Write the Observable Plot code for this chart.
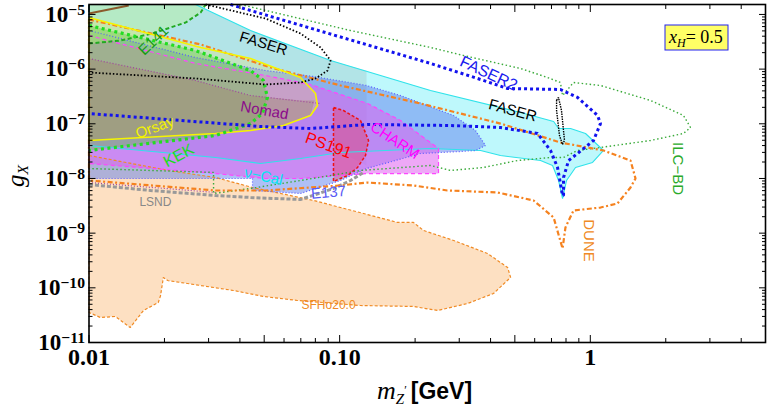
<!DOCTYPE html>
<html><head><meta charset="utf-8">
<script src="https://cdn.jsdelivr.net/npm/d3@7"></script>
<script src="https://cdn.jsdelivr.net/npm/@observablehq/plot@0.6"></script>
<style>body{margin:0;background:#fff}#chart{width:772px;height:410px}</style>
</head><body><div id="chart"></div>
<script>
// ---------- data (x = m_Z' in GeV, y = g_X) ----------
const sfhoX = [0.01,0.0208,0.032,0.0449,0.0787,0.1245,0.170,0.197,0.216,0.285,0.389,0.468,0.481,0.411,0.324,0.246,0.197,0.121,0.0679,0.0497,0.0377,0.0247,0.0206,0.0198,0.0193,0.0189,0.0165,0.0146,0.01275,0.0111,0.01];
const sfhoY = [2.63e-8,1.40e-8,1.04e-8,6.84e-9,3.96e-9,2.29e-9,1.57e-9,1.57e-9,1.12e-9,7.34e-10,4.25e-10,2.35e-10,1.55e-10,7.88e-11,5.17e-11,3.85e-11,4.56e-11,4.75e-11,5.87e-11,6.94e-11,8.94e-11,1.20e-10,1.36e-10,1.55e-10,7.24e-11,5.39e-11,3.85e-11,1.88e-11,2.99e-11,2.87e-11,3.54e-11];

const nucalX = [0.01,0.0266,0.0441,0.092,0.2304,0.527,0.714,0.747,0.834,0.957,1.129,1.021,0.873,0.804,0.775,0.747,0.707,0.633,0.438,0.365,0.2304,0.1008,0.0698,0.0483,0.032,0.01];
const nucalY = [1.52e-5,1.52e-5,5.08e-6,1.44e-6,4.06e-7,1.61e-7,1.10e-7,8.2e-8,8.2e-8,6.65e-8,3.25e-8,1.96e-8,1.59e-8,9.18e-9,4.30e-9,9.18e-9,1.73e-8,2.13e-8,2.63e-8,3.25e-8,3.53e-8,2.99e-8,2.32e-8,1.88e-8,2.42e-8,4.01e-8];

const greyX = [0.01,0.0266,0.0441,0.092,0.128,0.128,0.1008,0.0698,0.0483,0.032,0.01];
const greyY = [1.52e-5,1.52e-5,5.08e-6,1.44e-6,9.3e-7,1.73e-8,2.99e-8,2.32e-8,1.88e-8,2.42e-8,4.01e-8];

const e137X = [0.01,0.0266,0.0506,0.0787,0.128,0.1749,0.2847,0.3483,0.382,0.3483,0.3034,0.2102,0.128,0.1008,0.0698,0.0449,0.0449,0.01];
const e137Y = [5.08e-6,1.63e-6,9.43e-7,7.33e-7,5.02e-7,3.29e-7,1.42e-7,7.54e-8,4.01e-8,3.25e-8,3.11e-8,2.86e-8,1.52e-8,9.18e-9,5.31e-9,6.03e-9,9.99e-9,9.99e-9];

const charmX = [0.01,0.0266,0.0506,0.0765,0.1292,0.1749,0.248,0.248,0.1292,0.0698,0.0506,0.032,0.01];
const charmY = [4.12e-6,1.27e-6,7.64e-7,5.23e-7,2.35e-7,1.15e-7,3.53e-8,1.23e-8,1.23e-8,9.99e-9,9.99e-9,1.23e-8,1.88e-8];

const ps191X = [0.0945,0.1036,0.1211,0.1304,0.1268,0.1179,0.1075,0.0945];
const ps191Y = [1.99e-7,1.75e-7,1.15e-7,4.95e-8,2.63e-8,1.59e-8,1.13e-8,8.8e-9];

const e141X = [0.01,0.01335,0.0179,0.0243,0.0279,0.0292,0.01];
const e141Y = [2.94e-6,3.34e-6,4.48e-6,7.12e-6,1.085e-5,1.52e-5,1.52e-5];

const orsayX = [0.01,0.0279,0.0441,0.0698,0.0801,0.0816,0.0765,0.0597,0.0441,0.032,0.01];
const orsayY = [8.79e-6,2.49e-6,1.56e-6,7.03e-7,3.58e-7,2.16e-7,1.42e-7,9.31e-8,7.54e-8,6.65e-8,4.95e-8];

const kekX = [0.01,0.0266,0.0441,0.0497,0.0515,0.0492,0.0441,0.032,0.01];
const kekY = [6.28e-6,2.19e-6,9.43e-7,6.19e-7,3.03e-7,1.54e-7,1.01e-7,6.11e-8,3.25e-8];

const nomadFillX = [0.01,0.0266,0.0441,0.0698,0.0794,0.0765,0.0597,0.0441,0.032,0.01];
const nomadFillY = [1.56e-6,6.19e-7,3.29e-7,2.67e-7,2.67e-7,1.42e-7,9.31e-8,7.54e-8,6.65e-8,4.95e-8];

const duneX = [0.01,0.0279,0.053,0.1008,0.2102,0.438,0.760,1.129,1.447,1.515,1.447,1.284,1.098,0.857,0.796,0.775,0.714,0.594,0.427,0.269,0.197,0.129,0.1008,0.0506,0.032,0.01];
const duneY = [8.08e-6,2.82e-6,1.07e-6,5.02e-7,2.35e-7,1.01e-7,4.55e-8,3.25e-8,2.13e-8,9.99e-9,6.84e-9,3.49e-9,2.94e-9,2.60e-9,1.27e-9,5.24e-10,1.93e-9,3.96e-9,5.54e-9,6.03e-9,7.44e-9,8.44e-9,7.44e-9,6.03e-9,6.03e-9,9.18e-9];

const faser2X = [0.0367,0.0441,0.2304,0.355,0.468,0.760,0.889,1.069,1.098,1.030,0.889,0.819,0.782,0.782,0.775,0.740,0.694,0.616,0.438,0.277,0.1292,0.0765,0.0483,0.01];
const faser2Y = [1.52e-5,1.18e-5,1.27e-6,6.74e-7,4.42e-7,4.24e-7,3.03e-7,1.42e-7,1.01e-7,4.95e-8,2.86e-8,2.13e-8,1.04e-8,4.88e-9,4.88e-9,1.59e-8,3.25e-8,6.65e-8,8.56e-8,9.31e-8,9.71e-8,8.2e-8,8.93e-8,1.54e-7];

const faserX = [0.0292,0.0506,0.0698,0.0839,0.092,0.0895,0.0801,0.0698,0.0506,0.0266,0.01];
const faserY = [1.52e-5,8.43e-6,4.48e-6,2.49e-6,1.44e-6,9.43e-7,6.74e-7,5.69e-7,5.23e-7,6.74e-7,8.67e-7];

const faserSmallX = [0.7336,0.7466,0.7675,0.789,0.7746,0.7535,0.7336];
const faserSmallY = [2.67e-7,3.03e-7,1.75e-7,4.95e-8,4.2e-8,6.11e-8,1.75e-7];

const ilcX = [0.0402,0.047,0.1105,0.2304,0.312,0.527,0.675,0.760,0.775,0.857,1.098,1.739,2.354,2.51,2.354,1.739,1.098,0.889,0.782,0.694,0.5125,0.375,0.277,0.2304,0.1211,0.0698,0.0441,0.0314,0.0314,0.01];
const ilcY = [1.52e-5,1.284e-5,5.08e-6,2.49e-6,1.775e-6,1.026e-6,7.03e-7,5.69e-7,3.29e-7,5.69e-7,5.02e-7,2.67e-7,1.42e-7,8.56e-8,6.65e-8,4.95e-8,3.69e-8,3.25e-8,2.42e-8,2.42e-8,2.13e-8,1.59e-8,1.40e-8,1.73e-8,1.40e-8,9.18e-9,6.56e-9,5.31e-9,1.29e-8,1.52e-8];

const lsndX = [0.01,0.0176,0.032,0.0441,0.0698,0.0945,0.1105,0.1245];
const lsndY = [7.76e-9,6.03e-9,4.88e-9,4.49e-9,4.12e-9,6.56e-9,9.18e-9,1.29e-8];

const nomadUpX = [0.01,0.0266,0.0441,0.0839];
const nomadUpY = [1.56e-6,6.19e-7,3.29e-7,2.35e-7];
const nomadLoX = [0.01,0.032];
const nomadLoY = [8.44e-9,5.54e-9];

const brownX = [0.01,0.0144];
const brownY = [1.04e-5,1.457e-5];

// labels
const labelText = ["E141","FASER","Nomad","Orsay","KEK","ν−Cal","PS191","CHARM","E137","LSND","SFHo20.0","FASER2","FASER","DUNE","ILC−BD"];
const labelX = [0.0181,0.0497,0.0501,0.0183,0.0228,0.0497,0.0903,0.166,0.0903,0.0184,0.0903,0.393,0.490,0.984,2.23];
const labelY = [3.34e-6,2.94e-6,1.75e-7,8.56e-8,2.63e-8,1.09e-8,4.01e-8,4.95e-8,5.54e-9,3.64e-9,4.75e-11,8.32e-7,1.75e-7,7.34e-10,1.52e-8];

// ticks
const xMajor = [0.01,0.05,0.1,0.5,1,5];
const xMajorLabels = ["0.01","0.05","0.10","0.50","1","5"];
const xMinor = [0.02,0.03,0.04,0.06,0.07,0.08,0.09,0.2,0.3,0.4,0.6,0.7,0.8,0.9,2,3,4];
const yMajor = [1e-11,1e-10,1e-9,1e-8,1e-7,1e-6,1e-5];
const yMinor = [];
for (let e = -11; e <= -6; e++) for (let k = 2; k <= 9; k++) yMinor.push(k * Math.pow(10, e));

// ---------- build ----------
const pts = (xs, ys) => xs.map((x, i) => ({x, y: ys[i]}));
const labelStyle = [
  {c:"#169b16", r:-44, s:15}, {c:"#000", r:17, s:15}, {c:"#8b0a8b", r:10, s:15},
  {c:"#f2f200", r:-20, s:15}, {c:"#1fdc1f", r:-28, s:16}, {c:"#00e6f0", r:12, s:15},
  {c:"#ff0000", r:20, s:16}, {c:"#ff00ff", r:33, s:15}, {c:"#5a5af5", r:-5, s:15},
  {c:"#888", r:0, s:12}, {c:"#f08a24", r:0, s:12}, {c:"#1a1aee", r:25, s:16},
  {c:"#000", r:15, s:15}, {c:"#f08a24", r:90, s:15}, {c:"#2aaa2a", r:90, s:15}
];

const fillMark = (xs, ys, fill, op) => Plot.line(pts(xs, ys), {x:"x", y:"y", curve:"linear-closed", fill, fillOpacity: op, stroke:"none"});
const outline = (xs, ys, o) => Plot.line(pts(xs, ys), {x:"x", y:"y", curve: o.closed ? "linear-closed" : "linear", fill:"none", strokeLinecap:"butt", strokeLinejoin:"miter", ...o.style});

const marks = [
  fillMark(sfhoX, sfhoY, "#fde0c2", 1),
  fillMark(nucalX, nucalY, "#aef6fb", 0.8),
  fillMark(greyX, greyY, "#707070", 0.15),
  fillMark(e137X, e137Y, "#5f80ee", 0.5),
  fillMark(charmX, charmY, "#e060f0", 0.55),
  fillMark(ps191X, ps191Y, "#f03050", 0.35),
  fillMark(e141X, e141Y, "#b6ecb6", 0.7),
  fillMark(orsayX, orsayY, "#e8e070", 0.3),
  fillMark(kekX, kekY, "#64c83c", 0.4),
  fillMark(nomadFillX, nomadFillY, "#a08a70", 0.45),
  outline(sfhoX, sfhoY, {closed:true, style:{stroke:"#f08a24", strokeWidth:1.2, strokeDasharray:"3 2"}}),
  outline(nucalX, nucalY, {closed:true, style:{stroke:"#2fe3ea", strokeWidth:1.1}}),
  outline(e137X, e137Y, {closed:true, style:{stroke:"#5a5aff", strokeWidth:1.2, strokeDasharray:"1 2"}}),
  outline(charmX, charmY, {closed:true, style:{stroke:"#ff44ff", strokeWidth:1.2, strokeDasharray:"4 3"}}),
  outline(ps191X, ps191Y, {closed:true, style:{stroke:"#ee1111", strokeWidth:1.5, strokeDasharray:"3 2"}}),
  outline(e141X.slice(0, 6), e141Y.slice(0, 6), {style:{stroke:"#22aa22", strokeWidth:2, strokeDasharray:"4 2.5"}}),
  outline(nomadUpX, nomadUpY, {style:{stroke:"#a040a0", strokeWidth:1.2, strokeDasharray:"1 2"}}),
  outline(nomadLoX, nomadLoY, {style:{stroke:"#a040a0", strokeWidth:1.2, strokeDasharray:"1 2"}}),
  outline(lsndX, lsndY, {style:{stroke:"#999", strokeWidth:3, strokeDasharray:"4 2"}}),
  outline(ilcX, ilcY, {style:{stroke:"#3aaa3a", strokeWidth:1.4, strokeDasharray:"1.5 2.5"}}),
  outline(duneX, duneY, {closed:true, style:{stroke:"#f5821f", strokeWidth:2.2, strokeDasharray:"5 2.5 2 2.5"}}),
  outline(orsayX, orsayY, {closed:true, style:{stroke:"#f5f500", strokeWidth:1.6}}),
  outline(kekX, kekY, {style:{stroke:"#22dd22", strokeWidth:3.2, strokeDasharray:"3 3.5"}}),
  outline(faser2X, faser2Y, {style:{stroke:"#1212ee", strokeWidth:3, strokeDasharray:"3 3"}}),
  outline(faserX, faserY, {style:{stroke:"#000", strokeWidth:1.8, strokeDasharray:"1.5 2"}}),
  outline(faserSmallX, faserSmallY, {closed:true, style:{stroke:"#000", strokeWidth:1.4, strokeDasharray:"1.5 1"}}),
  outline(brownX, brownY, {style:{stroke:"#8b5a2b", strokeWidth:2}}),
  ...labelText.map((t, i) => Plot.text([{x: labelX[i], y: labelY[i], t}], {
    x:"x", y:"y", text:"t", fill: labelStyle[i].c, rotate: labelStyle[i].r,
    fontSize: labelStyle[i].s, fontFamily:"Liberation Sans"
  })),
  Plot.frame({stroke:"#000", strokeWidth:1.6}),
  Plot.axisX({anchor:"bottom", ticks:xMajor, tickSize:-7, tickPadding:12, label:null,
    tickFormat: d => xMajorLabels[xMajor.indexOf(d)], fontSize:24, fontFamily:"Liberation Serif", fontWeight:"bold"}),
  Plot.axisX({anchor:"bottom", ticks:xMinor, tickSize:-4, label:null, tickFormat:() => ""}),
  Plot.axisX({anchor:"top", ticks:xMajor, tickSize:-7, label:null, tickFormat:() => ""}),
  Plot.axisX({anchor:"top", ticks:xMinor, tickSize:-4, label:null, tickFormat:() => ""}),
  Plot.axisY({anchor:"left", ticks:yMajor, tickSize:-7, tickPadding:11, label:null,
    tickFormat: d => String(Math.round(Math.log10(d))), fontSize:23, fontFamily:"Liberation Serif", fontWeight:"bold"}),
  Plot.axisY({anchor:"left", ticks:yMinor, tickSize:-4, label:null, tickFormat:() => ""}),
  Plot.axisY({anchor:"right", ticks:yMajor, tickSize:-7, label:null, tickFormat:() => ""}),
  Plot.axisY({anchor:"right", ticks:yMinor, tickSize:-4, label:null, tickFormat:() => ""})
];

const svg = Plot.plot({
  width: 772, height: 410,
  marginLeft: 88.5, marginRight: 7, marginTop: 4, marginBottom: 68,
  x: {type:"log", domain:[0.01, 5]},
  y: {type:"log", domain:[1e-11, 1.52e-5]},
  style: {background:"white", color:"black"},
  marks
});
document.getElementById("chart").append(svg);

const s = d3.select(svg);
// superscript exponents for y tick labels
s.selectAll('g[aria-label="y-axis tick label"] text').each(function() {
  const el = d3.select(this); const v = el.text(); if (!v) return;
  el.text(null);
  el.append("tspan").text("10");
  el.append("tspan").attr("dy", "-0.45em").attr("font-size", "0.68em").text(v.replace("-", "−"));
});
// y-axis title
const gy = s.append("text").attr("transform", "translate(24,176) rotate(-90)").attr("text-anchor", "middle")
  .attr("font-family", "Liberation Serif").attr("font-style", "italic").attr("font-size", 25).attr("fill", "#000");
gy.append("tspan").text("g");
gy.append("tspan").attr("dy", "0.25em").attr("font-size", "0.62em").text("X");
// x-axis title
const xl = s.append("text").attr("x", 377).attr("y", 399).attr("text-anchor", "start").attr("font-size", 26).attr("fill", "#000");
xl.append("tspan").attr("font-family", "Liberation Serif").attr("font-style", "italic").text("m");
xl.append("tspan").attr("font-family", "Liberation Serif").attr("font-style", "italic").attr("font-size", 15).attr("dy", 5).text("Z");
xl.append("tspan").attr("font-family", "Liberation Serif").attr("font-size", 12).attr("dy", -10).text("′");
xl.append("tspan").attr("dy", 5).attr("dx", 4).attr("font-family", "Liberation Sans").attr("font-weight", "bold").attr("font-size", 23).text("[GeV]");
// x_H box
s.append("rect").attr("x", 665).attr("y", 25).attr("width", 63).attr("height", 25)
  .attr("fill", "#ffff66").attr("stroke", "#2222ee").attr("stroke-width", 1);
const lt = s.append("text").attr("x", 669).attr("y", 43).attr("text-anchor", "start").attr("font-family", "Liberation Serif").attr("font-size", 18).attr("fill", "#000");
lt.append("tspan").attr("font-style", "italic").text("x");
lt.append("tspan").attr("font-style", "italic").attr("font-size", 12).attr("dy", 4).text("H");
lt.append("tspan").attr("dy", -4).text("= 0.5");
</script></body></html>
